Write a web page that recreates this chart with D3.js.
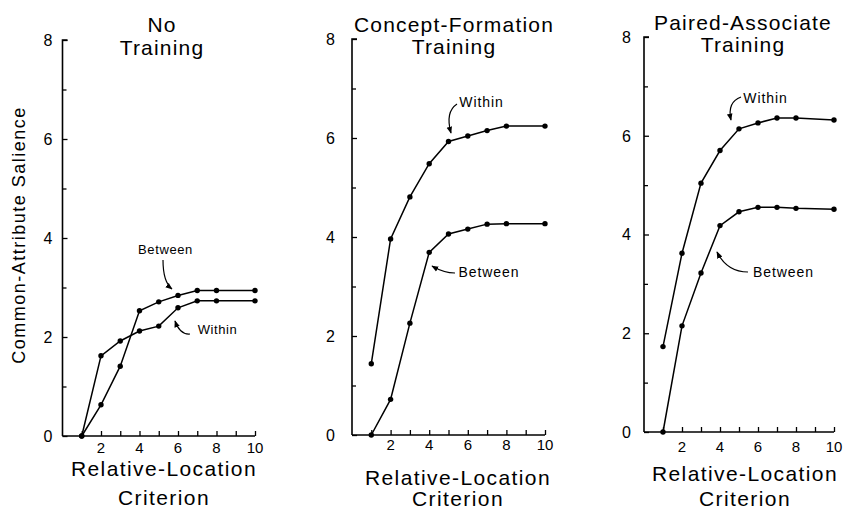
<!DOCTYPE html>
<html><head><meta charset="utf-8">
<script src="https://cdn.jsdelivr.net/npm/d3@7"></script>
<style>
body{margin:0;background:#fff}
svg{display:block;background:#fff}
text{font-family:"Liberation Sans",Arial,sans-serif;fill:#000}
</style>
</head><body>
<svg id="chart" width="844" height="511"></svg>
<script>
// ---- data ----
const xValues = [1, 2, 3, 4, 5, 6, 7, 8, 10];
const yTickValues = [0, 2, 4, 6, 8];
const yMinorTickValues = [1, 3, 5, 7];
const xTickValues = [1, 2, 3, 4, 5, 6, 7, 8, 9, 10];
const xTickLabels = [2, 4, 6, 8, 10];
const panelTitles = [["No", "Training"], ["Concept-Formation", "Training"], ["Paired-Associate", "Training"]];
const xAxisTitle = ["Relative-Location", "Criterion"];
const yAxisTitle = "Common-Attribute Salience";
const seriesNames = ["Within", "Between"];
const noTrainingWithin  = [0, 1.62, 1.92, 2.12, 2.22, 2.59, 2.73, 2.73, 2.73];
const noTrainingBetween = [0, 0.63, 1.41, 2.53, 2.71, 2.84, 2.94, 2.94, 2.94];
const conceptWithin     = [1.44, 3.96, 4.81, 5.48, 5.93, 6.04, 6.15, 6.24, 6.24];
const conceptBetween    = [0, 0.72, 2.26, 3.69, 4.06, 4.16, 4.26, 4.27, 4.27];
const pairedWithin      = [1.73, 3.62, 5.04, 5.70, 6.14, 6.26, 6.36, 6.36, 6.32];
const pairedBetween     = [0, 2.15, 3.22, 4.18, 4.46, 4.55, 4.55, 4.53, 4.51];

const panelSeries = [
  [noTrainingWithin, noTrainingBetween],
  [conceptWithin, conceptBetween],
  [pairedWithin, pairedBetween]
];

// ---- layout ----
const layout = [
  {x0: 62.5, x10: 255, y0: 436, y8: 40, yLabelGap: 10, xLabelY: 453,
   titleX: 162, titleY: [31.5, 55], axTitleX: 164, axTitleY: [476, 505], annFont: 13, annLS: 0.6,
   ann: [
     {label: [217.5, 329], arrow: [[190, 334], [180, 335], [175, 321]]},   // Within
     {label: [165.5, 249], arrow: [[163, 260], [163, 282], [172, 289]]}    // Between
   ]},
  {x0: 352, x10: 545, y0: 435, y8: 39, yLabelGap: 17, xLabelY: 450,
   titleX: 454, titleY: [31.5, 53.5], axTitleX: 458, axTitleY: [485, 506], annFont: 14, annLS: 0.9,
   ann: [
     {label: [481.5, 102], arrow: [[457, 104], [445, 112], [451, 133]]},
     {label: [489, 272], arrow: [[455, 273], [444, 273], [432, 266]]}
   ]},
  {x0: 644, x10: 834, y0: 432, y8: 37, yLabelGap: 13, xLabelY: 452,
   titleX: 743, titleY: [30, 52], axTitleX: 745, axTitleY: [481, 506], annFont: 14, annLS: 0.9,
   ann: [
     {label: [765.5, 98], arrow: [[741, 97], [727, 102], [731, 120]]},
     {label: [783.5, 272], arrow: [[748, 272], [727, 272], [717, 252]]}
   ]}
];

const svg = d3.select("#chart");
svg.append("defs").append("marker")
  .attr("id", "ah").attr("viewBox", "0 0 10 10").attr("refX", 9).attr("refY", 5)
  .attr("markerWidth", 7).attr("markerHeight", 7).attr("markerUnits", "userSpaceOnUse")
  .attr("orient", "auto")
  .append("path").attr("d", "M0,1 L10,5 L0,9 Z").attr("fill", "#000");

layout.forEach((L, i) => {
  const x = d3.scaleLinear().domain([0, 10]).range([L.x0, L.x10]);
  const y = d3.scaleLinear().domain([0, 8]).range([L.y0, L.y8]);
  const g = svg.append("g");

  // y axis (ticks inward)
  const yAxis = d3.axisRight(y).tickValues(yTickValues).tickSize(5).tickFormat("");
  const ya = g.append("g").attr("transform", `translate(${L.x0},0)`).call(yAxis);
  ya.select(".domain").attr("d", `M${5},${L.y8}H0V${L.y0}`);
  const yMinor = d3.axisRight(y).tickValues(yMinorTickValues).tickSize(4).tickFormat("");
  const ym = g.append("g").attr("transform", `translate(${L.x0},0)`).call(yMinor);
  ym.select(".domain").remove();
  g.selectAll(".tick line").attr("stroke", "#000").attr("stroke-width", 1.3);
  ya.select(".domain").attr("stroke", "#000").attr("stroke-width", 1.6).attr("fill", "none");

  g.selectAll(".ylab").data(yTickValues).enter().append("text")
    .attr("x", L.x0 - L.yLabelGap).attr("y", d => y(d)).attr("dy", "0.36em")
    .attr("text-anchor", "end").style("font-size", "16px").text(d => d);

  // x axis (ticks inward / upward)
  const xAxis = d3.axisTop(x).tickValues(xTickValues).tickSize(5).tickFormat("");
  const xa = g.append("g").attr("transform", `translate(0,${L.y0})`).call(xAxis);
  xa.select(".domain").attr("d", `M${L.x0},0H${L.x10}`).attr("stroke", "#000").attr("stroke-width", 1.6).attr("fill", "none");
  xa.selectAll(".tick line").attr("stroke", "#000").attr("stroke-width", 1.3);
  g.selectAll(".xlab").data(xTickLabels).enter().append("text")
    .attr("x", d => x(d)).attr("y", L.xLabelY)
    .attr("text-anchor", "middle").style("font-size", "15px").text(d => d);

  // series
  const line = d3.line().x((d, j) => x(xValues[j])).y(d => y(d));
  panelSeries[i].forEach(vals => {
    g.append("path").datum(vals).attr("d", line)
      .attr("fill", "none").attr("stroke", "#000").attr("stroke-width", 1.5);
    g.selectAll(null).data(vals).enter().append("circle")
      .attr("cx", (d, j) => x(xValues[j])).attr("cy", d => y(d)).attr("r", 2.7).attr("fill", "#000");
  });

  // annotations
  L.ann.forEach((a, k) => {
    g.append("text").attr("x", a.label[0]).attr("y", a.label[1]).attr("dy", "0.36em")
      .attr("text-anchor", "middle").style("font-size", L.annFont + "px")
      .style("letter-spacing", L.annLS + "px").text(seriesNames[k]);
    const [p0, c, p1] = a.arrow;
    g.append("path").attr("d", `M${p0[0]},${p0[1]}Q${c[0]},${c[1]} ${p1[0]},${p1[1]}`)
      .attr("fill", "none").attr("stroke", "#000").attr("stroke-width", 1.2)
      .attr("marker-end", "url(#ah)");
  });

  // titles
  panelTitles[i].forEach((t, k) => {
    g.append("text").attr("x", L.titleX).attr("y", L.titleY[k]).attr("text-anchor", "middle")
      .style("font-size", "21px").style("letter-spacing", "1.2px").text(t);
  });
  xAxisTitle.forEach((t, k) => {
    g.append("text").attr("x", L.axTitleX).attr("y", L.axTitleY[k]).attr("text-anchor", "middle")
      .style("font-size", "21px").style("letter-spacing", "1.4px").text(t);
  });
});

svg.append("text").attr("transform", "translate(25,235) rotate(-90)")
  .attr("text-anchor", "middle").style("font-size", "18px").style("letter-spacing", "1.5px")
  .text(yAxisTitle);
</script>
</body></html>
